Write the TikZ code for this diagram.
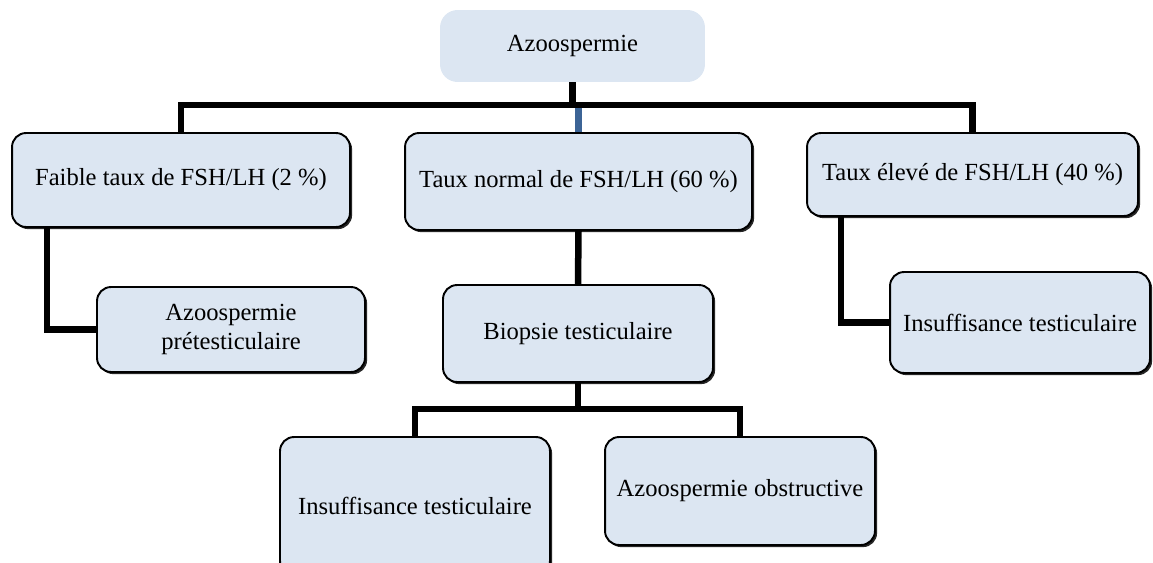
\documentclass[tikz,border=0pt]{standalone}
\usepackage{fontspec}
\setmainfont{Liberation Serif}
\usetikzlibrary{positioning,shadows}
\definecolor{boxblue}{HTML}{DCE6F2}
\definecolor{linkblue}{HTML}{3C6496}

\begin{document}
\begin{tikzpicture}[x=0.02cm, y=-0.02cm,
    root/.style={fill=boxblue, rounded corners=10pt, inner sep=2pt, font=\fontsize{14}{17}\selectfont},
    box/.style={draw, line width=1.1pt, rounded corners=8pt, fill=boxblue, align=center, inner sep=2pt,
        font=\fontsize{14}{17}\selectfont,
        drop shadow={shadow xshift=1.2pt, shadow yshift=-1.2pt, fill=black!85, opacity=1}},
    link/.style={line width=3.7pt}]
    \useasboundingbox (0,0) rectangle (1153,562);
    \clip (0,0) rectangle (1153,562);

    \node[root, minimum width=5.3cm, minimum height=1.44cm] (azoo) at (572.5,46) {Azoospermie};

    \node[box, minimum width=6.76cm, minimum height=1.88cm] (low) at (181,180) {Faible taux de FSH/LH (2 \%)};
    \node[box, minimum width=6.94cm, minimum height=1.94cm] (normal) at (578.5,181.5) {Taux normal de FSH/LH (60 \%)};
    \node[box, minimum width=6.62cm, minimum height=1.66cm] (high) at (972.5,174.5) {Taux élevé de FSH/LH (40 \%)};

    \node[box, minimum width=5.36cm, minimum height=1.7cm] (pretest) at (231,329.5) {Azoospermie\\prétesticulaire};
    \node[box, minimum width=5.4cm, minimum height=1.94cm] (biopsy) at (578,333.5) {Biopsie testiculaire};
    \node[box, minimum width=5.2cm, minimum height=2.02cm] (insufhigh) at (1020,322.5) {Insuffisance testiculaire};

    \node[box, minimum width=5.4cm, minimum height=2.76cm] (insuf) at (415,506) {Insuffisance testiculaire};
    \node[box, minimum width=5.4cm, minimum height=2.16cm] (obstr) at (740,491) {Azoospermie obstructive};

    \coordinate (topbar) at (0,105);
    \coordinate (lowbar) at (0,409);

    \draw[link, linkblue] (normal.north |- topbar) -- (normal.north);
    \draw[link] (azoo.south) -- (azoo.south |- topbar);
    \draw[link] (low.north) |- (high.north |- topbar) -- (high.north);
    \draw[link] ([xshift=0.72cm]low.south west) |- (pretest.west);
    \draw[link] ([xshift=0.7cm]high.south west) |- (insufhigh.west);
    \draw[link] (normal.south) -- (biopsy.north);
    \draw[link] (biopsy.south) -- (biopsy.south |- lowbar);
    \draw[link] (insuf.north) |- (obstr.north |- lowbar) -- (obstr.north);
\end{tikzpicture}
\end{document}
